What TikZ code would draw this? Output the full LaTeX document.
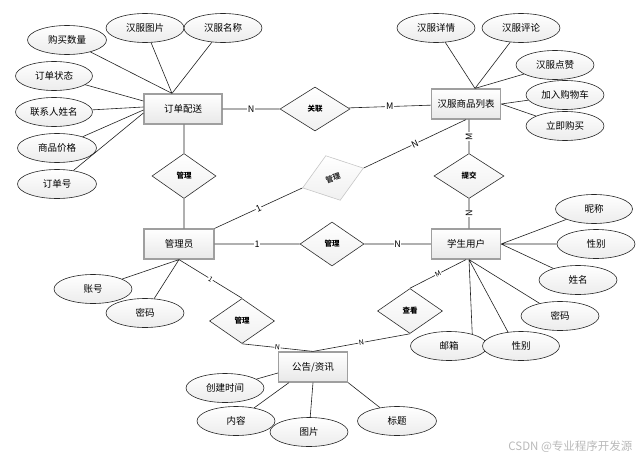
\documentclass[tikz,border=0pt]{standalone}
\usepackage{fontspec}
\setmainfont{Noto Sans CJK SC}
\usetikzlibrary{shapes.geometric, positioning}

\begin{document}
\begin{tikzpicture}[x=1pt, y=-1pt,
    font=\fontsize{9.5}{11}\selectfont,
    line/.style={draw=gray!25!black, line width=0.6pt},
    entity/.style={rectangle,
        draw=gray!75,
        line width=1.2pt,
        top color=white,
        bottom color=gray!18,
        minimum width=69pt,
        minimum height=30pt,
        inner sep=0pt},
    attr/.style={ellipse,
        draw=gray!30!black,
        line width=0.6pt,
        top color=white,
        bottom color=gray!15,
        minimum width=78pt,
        minimum height=29pt,
        inner sep=0pt},
    rel/.style={diamond,
        draw=gray!35!black,
        line width=0.6pt,
        top color=white,
        bottom color=gray!12,
        minimum width=64pt,
        minimum height=45pt,
        inner sep=0pt,
        font=\fontsize{7.5}{9}\selectfont\bfseries},
    card/.style={fill=white, inner sep=0.6pt, font=\fontsize{9}{10}\selectfont},
    smallcard/.style={card, sloped, font=\fontsize{7}{8}\selectfont}]
    \useasboundingbox (0,0) rectangle (640,460);

    % Add the entities
        \node[entity, minimum width=78pt] (pd) at (183,109) {订单配送};
        \node[entity] (hf) at (466,104) {汉服商品列表};
        \node[entity, minimum width=70pt] (gly) at (179,244) {管理员};
        \node[entity] (xs) at (466,244) {学生用户};
        \node[entity] (gg) at (313,367) {公告/资讯};

    % Add the relations
        \node[rel, minimum width=70pt, minimum height=44pt] (gl) at (315,109) {关联};
        \node[rel] (m1) at (184,176) {管理};
        \node[rel,
              rotate=18,
              draw=gray!45,
              minimum height=47pt,
              text=gray!40!black] (m2) at (333,178) {管理};
        \node[rel, minimum width=70pt] (tj) at (469,176) {提交};
        \node[rel, minimum height=44pt] (m3) at (332,244) {管理};
        \node[rel, minimum width=65pt] (m4) at (242,321) {管理};
        \node[rel, minimum width=65pt] (ck) at (410,311) {查看};

    % Add the attributes
        \node[attr, minimum width=79pt] (gm) at (67,40) {购买数量};
        \node[attr] (tp) at (145,28) {汉服图片};
        \node[attr] (mc) at (223,28) {汉服名称};
        \node[attr, minimum width=77pt] (zt) at (54,76) {订单状态};
        \node[attr, minimum width=77pt] (lx) at (54,112) {联系人姓名};
        \node[attr, minimum width=79pt] (jg) at (57,148) {商品价格};
        \node[attr, minimum width=79pt] (dh) at (57,184) {订单号};

        \node[attr] (xq) at (436,28) {汉服详情};
        \node[attr] (pl) at (521,28) {汉服评论};
        \node[attr] (dz) at (555,65) {汉服点赞};
        \node[attr] (gw) at (565,95) {加入购物车};
        \node[attr] (lj) at (565,126) {立即购买};

        \node[attr, minimum width=77pt] (nc) at (594,209) {昵称};
        \node[attr] (xb) at (596,244) {性别};
        \node[attr] (xm) at (578,280) {姓名};
        \node[attr] (mm) at (560,316) {密码};
        \node[attr, minimum width=77pt] (yx) at (449,346) {邮箱};
        \node[attr, minimum width=77pt] (xb2) at (521,346) {性别};

        \node[attr] (zh) at (93,289) {账号};
        \node[attr] (mm2) at (145,313) {密码};

        \node[attr] (sj) at (225,388) {创建时间};
        \node[attr] (nr) at (236,421) {内容};
        \node[attr] (tp2) at (309,432) {图片};
        \node[attr, minimum width=79pt] (bt) at (397,421) {标题};

        \node[text=gray!55, anchor=east, font=\fontsize{11.5}{13}\selectfont] (wm) at (636,447) {CSDN @专业程序开发源};

    % Meeting points on the boxes
        \coordinate (pdt) at ([xshift=-11pt]pd.north);
        \coordinate (hft) at ([xshift=9pt]hf.north);
        \coordinate (xss) at ([xshift=3pt]xs.south);

    % Relations
       \draw[line]
            (pd) -- node[card]{N} (gl)
            (gl) -- node[card]{M} (hf)
            (pd.south -| m1.north) -- (m1.north)
            (m1.south) -- (m1.south |- gly.north)
            (gly.north east) -- node[card, sloped]{1} (m2.west)
            (m2.east) -- node[card, sloped]{N} (hf.south)
            (tj.north |- hf.south) -- node[card, rotate=90]{M} (tj.north)
            (tj.south) -- node[card, rotate=90]{N} (tj.south |- xs.north)
            (gly) -- node[card]{1} (m3)
            (m3) -- node[card]{N} (xs)
            (gly.south) -- node[smallcard]{1} (m4.north)
            (m4.south) -- node[smallcard]{N} (gg.north)
            (xs.south) -- node[smallcard]{M} (ck.north)
            (ck.south) -- node[smallcard]{N} (gg.north)
            ;

    % Attributes
       \draw[line]
            (gm) -- (pdt)
            (tp) -- (pdt)
            (mc) -- (pdt)
            (zt) -- ([yshift=8pt]pd.west)
            (lx) -- ([yshift=2pt]pd.west)
            (jg) -- ([yshift=-1pt]pd.west)
            (dh) -- ([yshift=-4pt]pd.west)
            (xq) -- (hft)
            (pl) -- (hft)
            (dz) -- (hft)
            (gw) -- (hf.east)
            (lj) -- (hf.east)
            (nc) -- (xs.east)
            (xb) -- (xs.east)
            (xm) -- (xs.east)
            (mm) -- (xss)
            (yx.27) -- (xss)
            (xb2.133) -- (xss)
            (zh) -- (gly.south)
            (mm2) -- (gly.south)
            (sj) -- ([yshift=-6pt]gg.west)
            (nr) -- ([xshift=-24pt]gg.south)
            (tp2) -- (gg.south)
            (bt) -- (gg.south east)
            ;
\end{tikzpicture}
\end{document}
